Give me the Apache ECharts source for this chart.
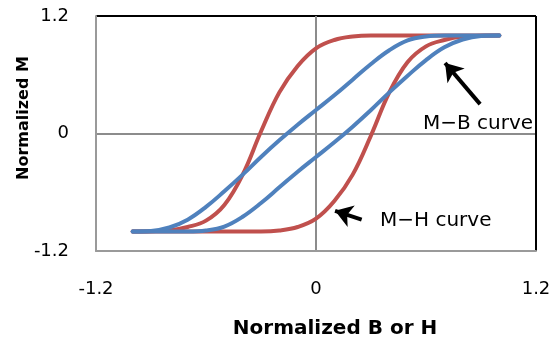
<!DOCTYPE html>
<html>
<head>
<meta charset="utf-8">
<script src="https://cdn.jsdelivr.net/npm/echarts@6/dist/echarts.min.js"></script>
<style>html,body{margin:0;padding:0;background:#fff;}#c{width:560px;height:340px;}</style>
</head>
<body>
<div id="c"></div>
<script>
// Normalized field values (x) shared by all branches
const xs = [-1.0,-0.9,-0.8,-0.7,-0.6,-0.5,-0.4,-0.3,-0.2,-0.1,0,0.1,0.2,0.3,0.4,0.5,0.6,0.7,0.8,0.9,1.0];
// M-H curve (red): upper and lower branches
const mhUpper = [-1.0,-0.998,-0.99,-0.955,-0.89,-0.73,-0.42,0.02,0.42,0.69,0.87,0.955,0.99,1.0,1.0,1.0,1.0,1.0,1.0,1.0,1.0];
const mhLower = [-1.0,-1.0,-1.0,-1.0,-1.0,-1.0,-1.0,-1.0,-0.99,-0.955,-0.87,-0.69,-0.42,-0.02,0.42,0.73,0.89,0.955,0.99,0.998,1.0];
// M-B curve (blue): upper and lower branches
const mbUpper = [-1.0,-0.995,-0.96,-0.88,-0.75,-0.59,-0.42,-0.24,-0.07,0.09,0.24,0.39,0.55,0.71,0.85,0.95,0.99,1.0,1.0,1.0,1.0];
const mbLower = [-1.0,-1.0,-1.0,-1.0,-0.99,-0.95,-0.85,-0.71,-0.55,-0.39,-0.24,-0.09,0.07,0.24,0.42,0.59,0.75,0.88,0.96,0.995,1.0];
// Axis ticks
const xTicks = [-1.2, 0, 1.2];
const yTicks = [-1.2, 0, 1.2];
// Annotation arrows (tail, head) in data units
const mbArrow = [[0.895, 0.30], [0.704, 0.72]];
const mhArrow = [[0.249, -0.88], [0.104, -0.79]];
const labels = { mb: 'M\u2212B curve', mh: 'M\u2212H curve', xName: 'Normalized B or H', yName: 'Normalized M' };

const RED = '#C0504D', BLUE = '#4F81BD';
const pairs = (ys) => xs.map((x, i) => [x, ys[i]]);
const branch = (ys, color) => ({
  type: 'line', data: pairs(ys), showSymbol: false, smooth: 0.4,
  lineStyle: { color: color, width: 4, cap: 'round', join: 'round' }, silent: true
});

const chart = echarts.init(document.getElementById('c'), null, { renderer: 'canvas' });
chart.setOption({
  animation: false,
  backgroundColor: '#fff',
  grid: { left: 96, top: 16, right: 24, bottom: 89, containLabel: false, outerBoundsMode: 'none' },
  xAxis: {
    type: 'value', min: xTicks[0], max: xTicks[2], interval: xTicks[2] - xTicks[1],
    axisLine: { show: true, onZero: false, lineStyle: { color: '#9a9a9a', width: 2 } },
    axisTick: { show: false },
    splitLine: { show: true, lineStyle: { color: ['#8c8c8c', '#8c8c8c', '#000'], width: 2 } },
    axisLabel: { margin: 29, fontSize: 18, fontFamily: 'DejaVu Sans', color: '#000' },
    name: labels.xName, nameLocation: 'middle', nameGap: 68, nameMoveOverlap: false,
    nameTextStyle: { fontSize: 20, fontWeight: 'bold', fontFamily: 'DejaVu Sans', color: '#000', padding: [0, 0, 0, 38] }
  },
  yAxis: {
    type: 'value', min: yTicks[0], max: yTicks[2], interval: yTicks[2] - yTicks[1],
    axisLine: { show: true, onZero: false, lineStyle: { color: '#9a9a9a', width: 2 } },
    axisTick: { show: false },
    splitLine: { show: true, lineStyle: { color: ['#8c8c8c', '#8c8c8c', '#000'], width: 2 } },
    axisLabel: { margin: 27, fontSize: 18, fontFamily: 'DejaVu Sans', color: '#000' },
    name: labels.yName, nameLocation: 'middle', nameGap: 64, nameMoveOverlap: false,
    nameTextStyle: { fontSize: 16, fontWeight: 'bold', fontFamily: 'DejaVu Sans', color: '#000', padding: [0, 0, 0, 31] }
  },
  series: [
    branch(mhUpper, RED),
    branch(mhLower, RED),
    branch(mbUpper, BLUE),
    branch(mbLower, BLUE),
    {
      type: 'line', data: [], silent: true,
      markLine: {
        silent: true, symbol: ['none', 'arrow'], symbolSize: [17, 17],
        label: { show: false },
        lineStyle: { color: '#000', width: 4, type: 'solid' },
        data: [
          [{ coord: mbArrow[0] }, { coord: mbArrow[1] }],
          [{ coord: mhArrow[0] }, { coord: mhArrow[1] }]
        ]
      }
    }
  ],
  graphic: [
    { type: 'text', x: 423, y: 124, silent: true,
      style: { text: labels.mb, fontSize: 20, fontFamily: 'DejaVu Sans', fill: '#000', verticalAlign: 'middle' } },
    { type: 'text', x: 380, y: 221, silent: true,
      style: { text: labels.mh, fontSize: 20, fontFamily: 'DejaVu Sans', fill: '#000', verticalAlign: 'middle' } }
  ]
});
</script>
</body>
</html>
